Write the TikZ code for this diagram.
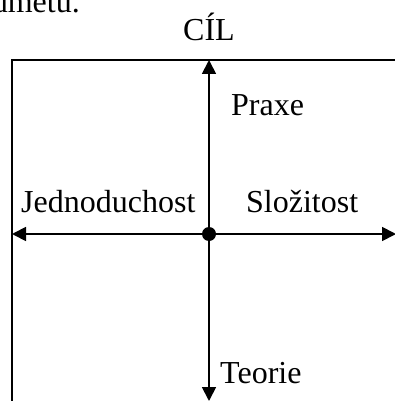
\documentclass[tikz,border=0pt]{standalone}
\usepackage{fontspec}
\setmainfont{Liberation Serif}
\usetikzlibrary{arrows.meta}
\begin{document}
\begin{tikzpicture}[x=1pt,y=-1pt,
  lbl/.style={inner sep=0pt,font=\fontsize{32}{37}\selectfont},
  axis/.style={line width=1.8pt,-{Triangle[width=14pt,length=14pt]}},
  frameline/.style={line width=1.8pt}]
\useasboundingbox (0,0) rectangle (395,401);
\clip (0,0) rectangle (395,401);
\node[lbl,anchor=base east] (prev) at (80,13) {dmetu.};
\node[lbl,anchor=base] (cil) at (209,41) {CÍL};
\coordinate (o) at (209,234);
\coordinate (top) at (209,60);
\coordinate (bot) at (209,401);
\coordinate (lft) at (12,234);
\coordinate (rgt) at (396,234);
\coordinate (tl) at (12,60);
\coordinate (tr) at (395,60);
\coordinate (bl) at (12,401);
\draw[frameline] (tr) -- (tl) -- (bl);
\draw[axis] (o) -- (top);
\draw[axis] (o) -- (bot);
\draw[axis] (o) -- (lft);
\draw[axis] (o) -- (rgt);
\fill (o) circle (7);
\node[lbl,anchor=base west] (praxe) at (231,115) {Praxe};
\node[lbl,anchor=base west] (jed) at (21,212) {Jednoduchost};
\node[lbl,anchor=base west] (slo) at (246,212) {Složitost};
\node[lbl,anchor=base west] (teo) at (220,383) {Teorie};
\end{tikzpicture}
\end{document}
